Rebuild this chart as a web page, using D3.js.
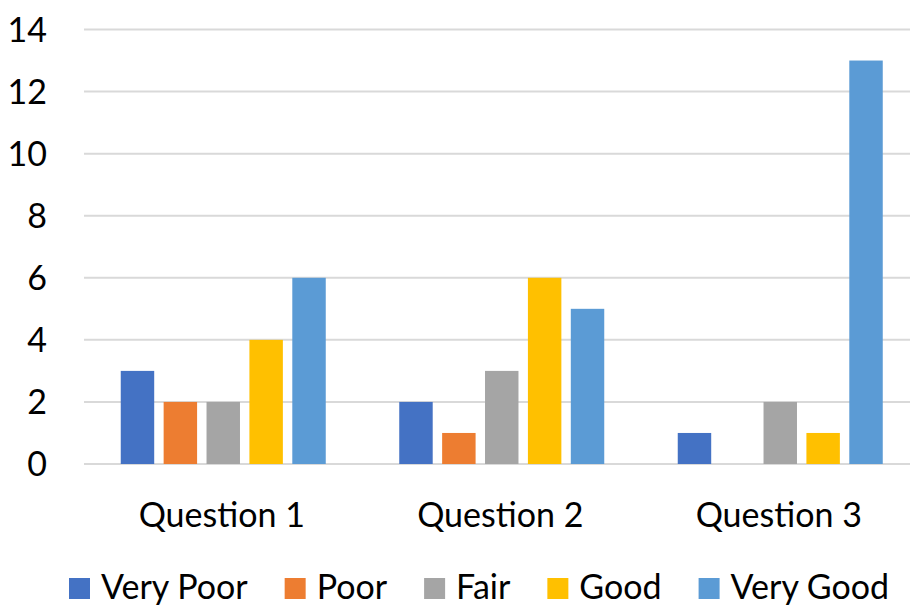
<!DOCTYPE html>
<html>
<head>
<meta charset="utf-8">
<script src="https://cdn.jsdelivr.net/npm/d3@7"></script>
<style>
  body { margin: 0; background: #fff; }
  svg { display: block; font-family: Lato, "Open Sans", sans-serif; }
</style>
</head>
<body>
<div id="chart"></div>
<script>
// data
const questions = ["Question 1", "Question 2", "Question 3"];
const ratings = ["Very Poor", "Poor", "Fair", "Good", "Very Good"];
const veryPoor = [3, 2, 1];
const poor = [2, 1, 0];
const fair = [2, 3, 2];
const good = [4, 6, 1];
const veryGood = [6, 5, 13];
const yTicks = [0, 2, 4, 6, 8, 10, 12, 14];

const colors = ["#4472C4", "#ED7D31", "#A5A5A5", "#FFC000", "#5B9BD5"];
const seriesValues = [veryPoor, poor, fair, good, veryGood];

const width = 910;
const height = 607;
const margin = { top: 29.5, right: -9.5, bottom: 143, left: 84 };

const svg = d3.select("#chart")
  .append("svg")
  .attr("width", width)
  .attr("height", height);

// scales
const x0 = d3.scaleBand()
  .domain(questions)
  .range([margin.left, width - margin.right])
  .paddingInner(0)
  .paddingOuter(0);

const x1 = d3.scaleBand()
  .domain(ratings)
  .range([36.75, x0.bandwidth() - 36.75])
  .paddingInner(0.22)
  .paddingOuter(0);

const y = d3.scaleLinear()
  .domain([0, 14])
  .range([height - margin.bottom, margin.top]);

const color = d3.scaleOrdinal().domain(ratings).range(colors);

// gridlines
svg.append("g")
  .selectAll("line")
  .data(yTicks)
  .join("line")
  .attr("x1", margin.left)
  .attr("x2", width)
  .attr("y1", d => y(d))
  .attr("y2", d => y(d))
  .attr("stroke", "#D9D9D9")
  .attr("stroke-width", 2);

// y tick labels
svg.append("g")
  .selectAll("text")
  .data(yTicks)
  .join("text")
  .attr("x", 47)
  .attr("y", d => y(d))
  .attr("dy", "0.36em")
  .attr("text-anchor", "end")
  .attr("fill", "#000")
  .style("font-size", "34px")
  .text(d => d);

// bars
const rows = questions.map((q, i) => ({
  q,
  vals: ratings.map((r, j) => ({ r, v: seriesValues[j][i] }))
}));

svg.append("g")
  .selectAll("g")
  .data(rows)
  .join("g")
  .attr("transform", d => `translate(${x0(d.q)},0)`)
  .selectAll("rect")
  .data(d => d.vals)
  .join("rect")
  .attr("x", d => x1(d.r))
  .attr("width", x1.bandwidth())
  .attr("y", d => y(d.v))
  .attr("height", d => y(0) - y(d.v))
  .attr("fill", d => color(d.r));

// x labels
svg.append("g")
  .selectAll("text")
  .data(questions)
  .join("text")
  .attr("x", d => x0(d) + x0.bandwidth() / 2 - 1.5)
  .attr("y", 527)
  .attr("text-anchor", "middle")
  .attr("fill", "#000")
  .style("font-size", "34px")
  .text(d => d);

// legend
const legend = svg.append("g");
let lx = 69;
ratings.forEach(r => {
  legend.append("rect")
    .attr("x", lx)
    .attr("y", 578)
    .attr("width", 21)
    .attr("height", 21)
    .attr("fill", color(r));
  const t = legend.append("text")
    .attr("x", lx + 32)
    .attr("y", 599)
    .attr("fill", "#000")
    .style("font-size", "34px")
    .text(r);
  lx += 32 + t.node().getComputedTextLength() + 37;
});
</script>
</body>
</html>
